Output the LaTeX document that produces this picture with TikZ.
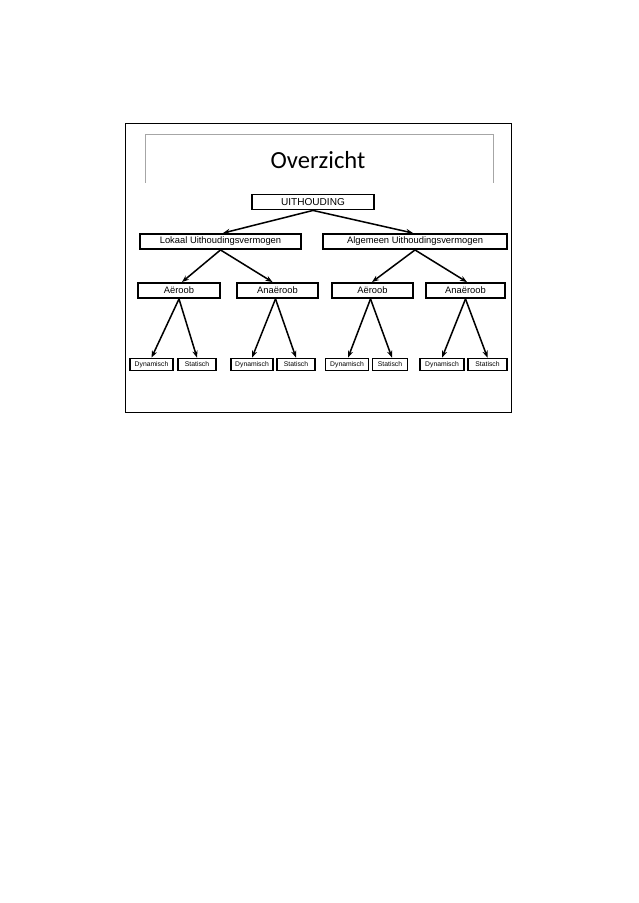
\documentclass[tikz,border=0pt]{standalone}
\usepackage{fontspec}
\setmainfont{Liberation Sans}
\newfontfamily\titlefont{Carlito}
\usetikzlibrary{arrows.meta}

\tikzset{
  levelbox/.style={draw, line width=1.6pt, inner sep=0pt, minimum height={15*0.03cm}, font=\fontsize{8}{9}\selectfont},
  leafbox/.style={draw, line width=1.4pt, inner sep=0pt, minimum height={12*0.03cm}, font=\fontsize{5.8}{7}\selectfont},
  branch/.style={line width=1.3pt, -{Stealth[length=6pt,width=4.5pt]}}
}

\begin{document}
\begin{tikzpicture}[x=0.03cm, y=-0.03cm]
          \useasboundingbox (0,0) rectangle (638,903);

          % slide frame and title
          \draw[line width=0.8pt] (125,123) rectangle (511,412);
          \draw[gray!70, line width=0.6pt] (145,183) -- (145,134) -- (493,134) -- (493,183);
          \node[font=\titlefont\fontsize{21}{24}\selectfont] (title) at (318,160) {Overzicht};

          % top
          \node[levelbox, minimum width={122*0.03cm}, font=\fontsize{8.6}{10}\selectfont] (uit) at (313,202) {UITHOUDING};

          % second level
          \node[levelbox, minimum width={161*0.03cm}] (lok) at (220.5,241.5) {Lokaal Uithoudingsvermogen};
          \node[levelbox, minimum width={184*0.03cm}] (alg) at (415,241.5) {Algemeen Uithoudingsvermogen};

          % third level
          \node[levelbox, minimum width={82*0.03cm}] (aerL) at (179,290.5) {Aëroob};
          \node[levelbox, minimum width={81*0.03cm}] (anaL) at (277.5,290.5) {Anaëroob};
          \node[levelbox, minimum width={81*0.03cm}] (aerR) at (372.5,290.5) {Aëroob};
          \node[levelbox, minimum width={79*0.03cm}] (anaR) at (465.5,290.5) {Anaëroob};

          % leaves
          \node[leafbox, minimum width={43*0.03cm}] (dyn1) at (151.5,364.5) {Dynamisch};
          \node[leafbox, minimum width={38*0.03cm}] (stat1) at (197,364.5) {Statisch};
          \node[leafbox, minimum width={42*0.03cm}] (dyn2) at (252,364.5) {Dynamisch};
          \node[leafbox, minimum width={38*0.03cm}] (stat2) at (296,364.5) {Statisch};
          \node[leafbox, minimum width={43*0.03cm}] (dyn3) at (347,364.5) {Dynamisch};
          \node[leafbox, minimum width={35*0.03cm}] (stat3) at (390,364.5) {Statisch};
          \node[leafbox, minimum width={44*0.03cm}] (dyn4) at (442,364.5) {Dynamisch};
          \node[leafbox, minimum width={39*0.03cm}] (stat4) at (487.5,364.5) {Statisch};

          % arrows
          \draw[branch] (uit.south) -- ([xshift=2.5*0.03cm]lok.north);
          \draw[branch] (uit.south) -- ([xshift=-2*0.03cm]alg.north);
          \draw[branch] (lok.south) -- ([xshift=3*0.03cm]aerL.north);
          \draw[branch] (lok.south) -- ([xshift=-5*0.03cm]anaL.north);
          \draw[branch] (alg.south) -- ([xshift=-0.5*0.03cm]aerR.north);
          \draw[branch] (alg.south) -- ([xshift=1.5*0.03cm]anaR.north);
          \draw[branch] (aerL.south) -- (dyn1.north);
          \draw[branch] (aerL.south) -- (stat1.north);
          \draw[branch] ([xshift=-2*0.03cm]anaL.south) -- (dyn2.north);
          \draw[branch] ([xshift=-2*0.03cm]anaL.south) -- (stat2.north);
          \draw[branch] ([xshift=-2*0.03cm]aerR.south) -- ([xshift=1*0.03cm]dyn3.north);
          \draw[branch] ([xshift=-2*0.03cm]aerR.south) -- ([xshift=2*0.03cm]stat3.north);
          \draw[branch] (anaR.south) -- (dyn4.north);
          \draw[branch] (anaR.south) -- (stat4.north);
\end{tikzpicture}
\end{document}
